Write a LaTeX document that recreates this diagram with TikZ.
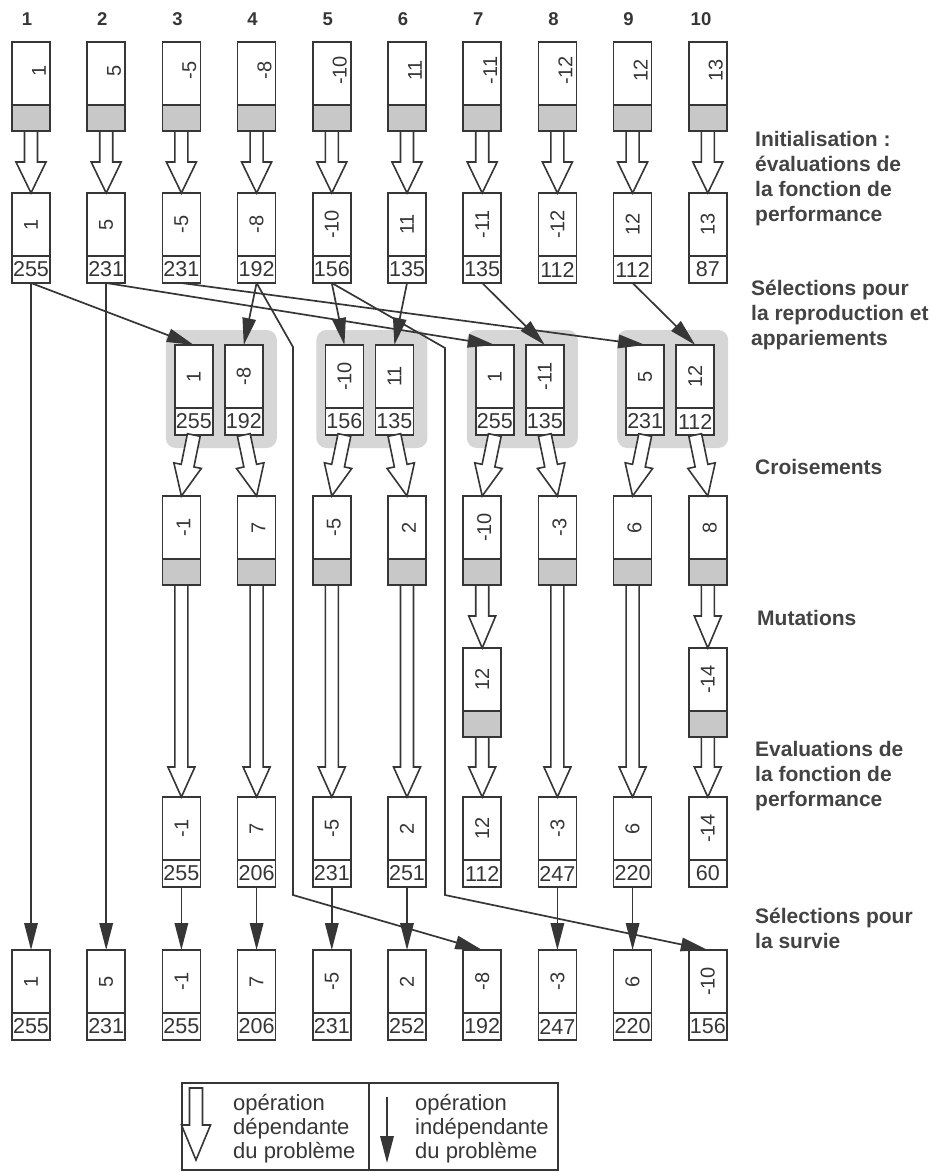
\documentclass[tikz,border=0pt]{standalone}
\usepackage{fontspec}
\setmainfont{Liberation Sans}
\usetikzlibrary{calc,arrows.meta}

\definecolor{ink}{HTML}{363636}
\definecolor{labelink}{HTML}{434343}
\definecolor{stipple}{HTML}{C8C8C8}
\definecolor{pairbg}{HTML}{D6D6D6}

\newcommand\fitfont{\fontsize{21.5}{22}\selectfont}
\newcommand\valfont{\fontsize{20}{21}\selectfont}
\newcommand\colfont{\fontsize{18.5}{20}\selectfont\bfseries}
\newcommand\stagefont{\fontsize{21}{25}\selectfont\bfseries}
\newcommand\legfont{\fontsize{22}{24}\selectfont}

\tikzset{
  cell/.style={draw=ink, line width=1.6pt, minimum width=38pt, inner sep=0pt, outer sep=0pt, anchor=north},
  genebox/.style={cell, minimum height=63pt, fill=white},
  greybox/.style={cell, minimum height=26pt, fill=stipple},
  fitbox/.style={cell, minimum height=27pt, fill=white, font=\fitfont, text=ink},
  val/.style={rotate=90, font=\valfont, text=ink, inner sep=0pt},
  colnum/.style={font=\colfont, text=ink},
  stage/.style={font=\stagefont, text=labelink, align=left, anchor=west, inner sep=0pt},
  legtext/.style={font=\legfont, text=ink, align=left, anchor=west, inner sep=0pt},
  legcell/.style={draw=ink, line width=1.6pt, minimum height=87pt, anchor=north west, inner sep=0pt, outer sep=0pt},
  sel/.style={draw=ink, line width=1.7pt, -{Triangle[length=27pt,width=13.5pt]}},
  hollowst/.style={draw=ink, line width=1.6pt, fill=white, line join=miter},
  pairback/.style={fill=pairbg, rounded corners=10pt},
}

% chromosome whose fitness is not yet known (grey tail)
\newcommand\geneG[5]{%
  \node[genebox] (#1) at (#2,#3) {};
  \node[greybox] (#1f) at (#1.south) {};
  \node[val] (#1t) at ($(#1.center)+(#5)$) {#4};}
% chromosome with its fitness value
\newcommand\geneF[5]{%
  \node[genebox] (#1) at (#2,#3) {};
  \node[fitbox] (#1f) at (#1.south) {#5};
  \node[val] (#1t) at (#1.center) {#4};}
% wide white arrow: start, end, head length, head half width
\newcommand\hollow[4]{%
  \draw[hollowst] ($(#1)!6.5pt!90:(#2)$)
    -- ($(#2)!#3pt!(#1)!6.5pt!-90:(#1)$)
    -- ($(#2)!#3pt!(#1)!#4pt!-90:(#1)$)
    -- (#2)
    -- ($(#2)!#3pt!(#1)!#4pt!90:(#1)$)
    -- ($(#2)!#3pt!(#1)!6.5pt!90:(#1)$)
    -- ($(#1)!6.5pt!-90:(#2)$) -- cycle;}

\begin{document}
\begin{tikzpicture}[x=1pt,y=-1pt]
\useasboundingbox (0,0) rectangle (931,1172);

% individual numbers
\node[colnum] (h1) at (27,19) {1};
\node[colnum] (h2) at (102.2,19) {2};
\node[colnum] (h3) at (177.4,19) {3};
\node[colnum] (h4) at (252.6,19) {4};
\node[colnum] (h5) at (327.8,19) {5};
\node[colnum] (h6) at (403,19) {6};
\node[colnum] (h7) at (478.2,19) {7};
\node[colnum] (h8) at (553.4,19) {8};
\node[colnum] (h9) at (628.6,19) {9};
\node[colnum] (h10) at (701,19) {10};

% mating pairs
\fill[pairback] (165.8,330) rectangle (276.8,448);
\fill[pairback] (316.4,330) rectangle (427.4,448);
\fill[pairback] (466.8,330) rectangle (577.8,448);
\fill[pairback] (617.2,330) rectangle (728.2,448);

% initial population
\geneG{a1}{31}{42}{1}{8,-3}
\geneG{a2}{106.2}{42}{5}{8,-3}
\geneG{a3}{181.4}{42}{-5}{8,-3}
\geneG{a4}{256.6}{42}{-8}{8,-3}
\geneG{a5}{331.8}{42}{-10}{8,-3}
\geneG{a6}{407}{42}{11}{8,-3}
\geneG{a7}{482.2}{42}{-11}{8,-3}
\geneG{a8}{557.4}{42}{-12}{8,-3}
\geneG{a9}{632.6}{42}{12}{8,-3}
\geneG{a10}{707.8}{42}{13}{8,-3}

% evaluated population
\geneF{b1}{31}{193}{1}{255}
\geneF{b2}{106.2}{193}{5}{231}
\geneF{b3}{181.4}{193}{-5}{231}
\geneF{b4}{256.6}{193}{-8}{192}
\geneF{b5}{331.8}{193}{-10}{156}
\geneF{b6}{407}{193}{11}{135}
\geneF{b7}{482.2}{193}{-11}{135}
\geneF{b8}{557.4}{193}{-12}{112}
\geneF{b9}{632.6}{193}{12}{112}
\geneF{b10}{707.8}{193}{13}{87}

% selected parents
\geneF{p1a}{193.8}{345}{1}{255}
\geneF{p1b}{243.8}{345}{-8}{192}
\geneF{p2a}{344.4}{345}{-10}{156}
\geneF{p2b}{394.4}{345}{11}{135}
\geneF{p3a}{494.8}{345}{1}{255}
\geneF{p3b}{544.8}{345}{-11}{135}
\geneF{p4a}{645.2}{345}{5}{231}
\geneF{p4b}{695.2}{345}{12}{112}

% offspring after crossover
\geneG{d3}{181.4}{496}{-1}{2,0}
\geneG{d4}{256.6}{496}{7}{2,0}
\geneG{d5}{331.8}{496}{-5}{2,0}
\geneG{d6}{407}{496}{2}{2,0}
\geneG{d7}{482.2}{496}{-10}{2,0}
\geneG{d8}{557.4}{496}{-3}{2,0}
\geneG{d9}{632.6}{496}{6}{2,0}
\geneG{d10}{707.8}{496}{8}{2,0}

% mutants
\geneG{m7}{482.2}{648}{12}{0,0}
\geneG{m10}{707.8}{648}{-14}{0,0}

% evaluated offspring
\geneF{e3}{181.4}{797}{-1}{255}
\geneF{e4}{256.6}{797}{7}{206}
\geneF{e5}{331.8}{797}{-5}{231}
\geneF{e6}{407}{797}{2}{251}
\geneF{e7}{482.2}{797}{12}{112}
\geneF{e8}{557.4}{797}{-3}{247}
\geneF{e9}{632.6}{797}{6}{220}
\geneF{e10}{707.8}{797}{-14}{60}

% next generation
\geneF{f1}{31}{950}{1}{255}
\geneF{f2}{106.2}{950}{5}{231}
\geneF{f3}{181.4}{950}{-1}{255}
\geneF{f4}{256.6}{950}{7}{206}
\geneF{f5}{331.8}{950}{-5}{231}
\geneF{f6}{407}{950}{2}{252}
\geneF{f7}{482.2}{950}{-8}{192}
\geneF{f8}{557.4}{950}{-3}{247}
\geneF{f9}{632.6}{950}{6}{220}
\geneF{f10}{707.8}{950}{-10}{156}

% problem dependent operations
\foreach \i in {1,...,10} {\hollow{a\i f.south}{b\i.north}{31}{15}}
\hollow{p1af.south}{d3.north}{31}{14}
\hollow{p1bf.south}{d4.north}{31}{14}
\hollow{p2af.south}{d5.north}{31}{14}
\hollow{p2bf.south}{d6.north}{31}{14}
\hollow{p3af.south}{d7.north}{31}{14}
\hollow{p3bf.south}{d8.north}{31}{14}
\hollow{p4af.south}{d9.north}{31}{14}
\hollow{p4bf.south}{d10.north}{31}{14}
\foreach \i in {3,4,5,6,8,9} {\hollow{d\i f.south}{e\i.north}{30}{13.5}}
\hollow{d7f.south}{m7.north}{32}{13.5}
\hollow{m7f.south}{e7.north}{30}{13.5}
\hollow{d10f.south}{m10.north}{32}{13.5}
\hollow{m10f.south}{e10.north}{30}{13.5}

% selection for reproduction
\draw[sel] (b1f.south) -- (p1a.north);
\draw[sel] (b4f.south) -- (p1b.north);
\draw[sel] (b5f.south) -- (p2a.north);
\draw[sel] (b6f.south) -- (p2b.north);
\draw[sel] (b2f.south) -- (p3a.north);
\draw[sel] (b7f.south) -- (p3b.north);
\draw[sel] (b3f.south) -- (p4a.north);
\draw[sel] (b9f.south) -- (p4b.north);

% selection for survival
\draw[sel] (b1f.south) -- (f1.north);
\draw[sel] (b2f.south) -- (f2.north);
\foreach \i in {3,4,5,6,8,9} {\draw[sel] (e\i f.south) -- (f\i.north);}
\coordinate (s1) at (293,347);
\coordinate (s2) at (293,895);
\coordinate (s3) at (445,348);
\coordinate (s4) at (445,895);
\draw[sel] (b4f.south) -- (s1) -- (s2) -- (f7.north);
\draw[sel] (b5f.south) -- (s3) -- (s4) -- (f10.north);

% stage names
\node[stage] (l1) at (755,179) {Initialisation :\\évaluations de\\la fonction de\\performance};
\node[stage] (l2) at (751,315) {Sélections pour\\la reproduction et\\appariements};
\node[stage] (l3) at (755,467) {Croisements};
\node[stage] (l4) at (757,618) {Mutations};
\node[stage] (l5) at (755,776) {Evaluations de\\la fonction de\\performance};
\node[stage] (l6) at (755,928) {Sélections pour\\la survie};

% key
\node[legcell, minimum width=187pt] (kl) at (182,1083) {};
\node[legcell, minimum width=189pt] (kr) at (369,1083) {};
\coordinate (ka1) at (196,1088);
\coordinate (ka2) at (196,1160);
\hollow{ka1}{ka2}{35}{14.5}
\coordinate (kb1) at (387,1097);
\coordinate (kb2) at (387,1163);
\draw[sel] (kb1) -- (kb2);
\node[legtext] (kt1) at (233,1129) {opération\\dépendante\\du problème};
\node[legtext] (kt2) at (415,1129) {opération\\indépendante\\du problème};
\end{tikzpicture}
\end{document}
